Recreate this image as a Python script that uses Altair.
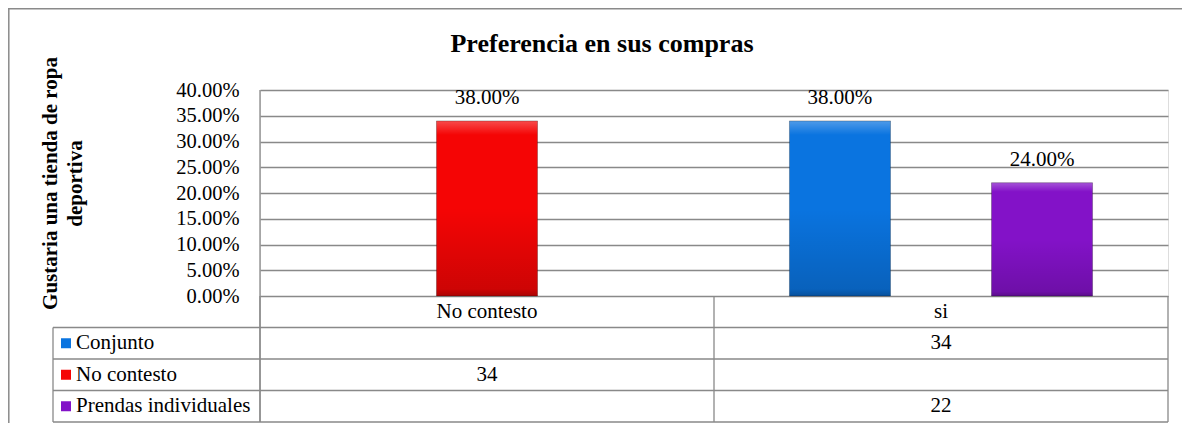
import altair as alt
import pandas as pd

# ---- data ----
categorias = ["No contesto", "si"]
series = ["Conjunto", "No contesto", "Prendas individuales"]
colores = ["#0A74E0", "#F50505", "#8312C8"]
barra_categoria = ["No contesto", "si", "si"]
barra_serie = ["No contesto", "Conjunto", "Prendas individuales"]
barra_valor = [34, 34, 22]
barra_etiqueta = ["38.00%", "38.00%", "24.00%"]
eje_y_valores = [0, 5, 10, 15, 20, 25, 30, 35, 40]
titulo = ["Preferencia en sus compras"]
titulo_eje_y = ["Gustaria una tienda de ropa", "deportiva"]

# ---- style / layout ----
FONT = "Liberation Serif"
W, H = 908, 206
TABLE_BOTTOM = 332
GRID = "#898989"
LW = 1.3

barras = pd.DataFrame({
    "categoria": barra_categoria,
    "serie": barra_serie,
    "valor": barra_valor,
    "etiqueta": barra_etiqueta,
})
filas = pd.DataFrame({"fila": series})
cats = pd.DataFrame({"categoria": categorias})
uno = pd.DataFrame({"k": [0]})
tit = pd.DataFrame({"t": titulo})

x_scale = alt.Scale(domain=categorias, paddingInner=0, paddingOuter=0)
row_domain = ["encabezado"] + series
row_scale = alt.Scale(domain=row_domain, range=[H, TABLE_BOTTOM], paddingInner=0, paddingOuter=0)
color_scale = alt.Scale(domain=series, range=colores)

X = alt.X("categoria:N", scale=x_scale, axis=None, sort=categorias)
XO = alt.XOffset("serie:N", scale=alt.Scale(domain=series, paddingInner=0, paddingOuter=0.747))
Y_AXIS = alt.Y(
    "valor:Q",
    scale=alt.Scale(domain=[0, 40], nice=False),
    axis=alt.Axis(
        values=eje_y_valores,
        labelExpr="format(datum.value, '.2f') + '%'",
        grid=True, ticks=False, domain=False,
        labelFont=FONT, labelFontSize=20.5, labelColor="black", labelPadding=21,
        gridColor=GRID, gridWidth=LW,
        title=titulo_eje_y, titleFont=FONT, titleFontSize=21, titleFontWeight="bold",
        titleColor="black", titleAngle=270, titleX=-221, titleY=93,
        titleAlign="center", titleBaseline="top", titleLineHeight=25,
    ),
)
Y_PLAIN = alt.Y("valor:Q", scale=alt.Scale(domain=[0, 40], nice=False), axis=None)

bars = alt.Chart(barras).mark_bar().encode(
    x=X, xOffset=XO, y=Y_AXIS,
    color=alt.Color("serie:N", scale=color_scale, legend=None),
)

shade = alt.Chart(barras).mark_bar(
    color=alt.Gradient(
        gradient="linear", x1=0, x2=0, y1=0, y2=1,
        stops=[
            alt.GradientStop(color="rgba(255,255,255,0.28)", offset=0),
            alt.GradientStop(color="rgba(255,255,255,0.0)", offset=0.08),
            alt.GradientStop(color="rgba(0,0,0,0.0)", offset=0.5),
            alt.GradientStop(color="rgba(0,0,0,0.16)", offset=0.96),
            alt.GradientStop(color="rgba(0,0,0,0.3)", offset=1),
        ],
    ),
    stroke="rgba(0,0,0,0.25)", strokeWidth=1,
).encode(x=X, xOffset=XO, y=Y_PLAIN)

labels = alt.Chart(barras).mark_text(
    font=FONT, fontSize=21, color="black", baseline="alphabetic", dy=-17
).encode(x=X, xOffset=XO, y=Y_PLAIN, text="etiqueta:N")

# ---- chart title ----
title_mark = alt.Chart(tit).mark_text(
    font=FONT, fontSize=26, fontWeight="bold", color="black",
    align="center", baseline="alphabetic",
).encode(x=alt.value(342), y=alt.value(-38), text="t:N")

# ---- data table below ----
RY = lambda bp=0.5: alt.Y("fila:N", scale=row_scale, axis=None, bandPosition=bp)

row_lines = alt.Chart(filas).mark_rule(color=GRID, strokeWidth=LW).encode(
    y=RY(0), x=alt.value(-207), x2=alt.value(W)
)
bottom_line = alt.Chart(filas).mark_rule(color=GRID, strokeWidth=LW).encode(
    y=RY(1), x=alt.value(-207), x2=alt.value(W)
).transform_filter(alt.datum.fila == series[-1])
left_col_line = alt.Chart(filas).mark_rule(color=GRID, strokeWidth=LW).encode(
    y=RY(0), y2=alt.value(TABLE_BOTTOM), x=alt.value(-207)
).transform_filter(alt.datum.fila == series[0])
plot_left_line = alt.Chart(uno).mark_rule(color=GRID, strokeWidth=LW).encode(
    x=alt.value(0), y=alt.value(0), y2=alt.value(TABLE_BOTTOM)
)
cat_lines = alt.Chart(cats).mark_rule(color=GRID, strokeWidth=LW).encode(
    x=alt.X("categoria:N", scale=x_scale, axis=None, bandPosition=0),
    y=alt.value(H), y2=alt.value(TABLE_BOTTOM),
)
right_line = alt.Chart(cats).mark_rule(color=GRID, strokeWidth=LW).encode(
    x=alt.X("categoria:N", scale=x_scale, axis=None, bandPosition=1),
    y=alt.value(H), y2=alt.value(TABLE_BOTTOM),
).transform_filter(alt.datum.categoria == categorias[-1])

header_text = alt.Chart(cats).transform_calculate(fila="'encabezado'").mark_text(
    font=FONT, fontSize=21, color="black", baseline="middle"
).encode(x=X, y=RY(), text="categoria:N")

value_text = alt.Chart(barras).transform_calculate(fila="datum.serie").mark_text(
    font=FONT, fontSize=21, color="black", baseline="middle"
).encode(x=X, y=RY(), text="valor:Q")

legend_text = alt.Chart(filas).mark_text(
    font=FONT, fontSize=21, color="black", baseline="middle", align="left"
).encode(x=alt.value(-184), y=RY(), text="fila:N")

legend_sq = alt.Chart(filas).mark_square(size=100, opacity=1).encode(
    x=alt.value(-194), y=RY(),
    color=alt.Color("fila:N", scale=color_scale, legend=None),
)

# outer chart-area border (top and left)
border_top = alt.Chart(uno).mark_rule(color="#8a8a8a", strokeWidth=1.5).encode(
    x=alt.value(-252), x2=alt.value(W + 14), y=alt.value(-81.2)
)
border_left = alt.Chart(uno).mark_rule(color="#8a8a8a", strokeWidth=1.5).encode(
    x=alt.value(-251.2), y=alt.value(-82), y2=alt.value(H + 140)
)

chart = alt.layer(
    border_top, border_left, title_mark,
    bars, shade, labels,
    row_lines, bottom_line, left_col_line, plot_left_line, cat_lines, right_line,
    header_text, value_text, legend_text, legend_sq,
).resolve_scale(y="independent").properties(
    width=W, height=H,
    autosize=alt.AutoSizeParams(type="none"),
    padding={"left": 252, "top": 82, "right": 14, "bottom": 127},
).configure_view(stroke=None).configure(background="white")

chart.save("out.html", embed_options={"renderer": "svg", "actions": False})
